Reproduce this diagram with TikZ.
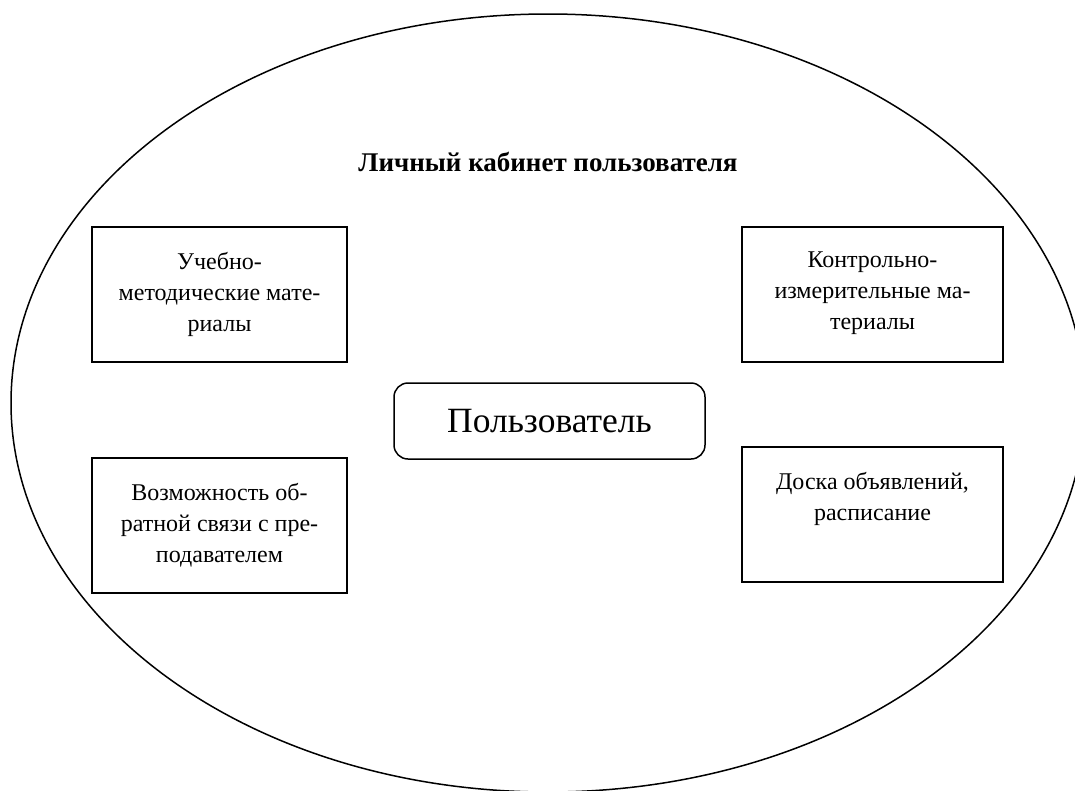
\documentclass[tikz,border=0pt]{standalone}
\usepackage{fontspec}
\setmainfont{Liberation Serif}
\usepackage{tikz}

\tikzset{
    infobox/.style={draw, line width=1.5pt, inner sep=0pt},
    userbox/.style={draw, line width=1.5pt, rounded corners=14pt, minimum width=311pt, minimum height=76pt, font=\fontsize{35.5}{40}\selectfont},
    cabinet/.style={font=\bfseries\fontsize{27}{32}\selectfont}
}
\newcommand{\boxlines}[2]{\parbox[c][135pt][t]{#1}{\centering\fontsize{24}{31}\selectfont\vspace*{25pt}#2}}

\begin{document}
\begin{tikzpicture}[x=1pt,y=-1pt]
        \clip (0,0) rectangle (1075,790);
        \draw[line width=1.5pt] (548,403) ellipse [x radius=537, y radius=389];
        \node[cabinet] (title) at (548,162) {Личный кабинет пользователя};
        \node[userbox] (user) at (549.5,421) {Пользователь};
        \node[infobox] (study) at (219.5,294.5) {\boxlines{255pt}{Учебно-\\методические мате-\\риалы}};
        \node[infobox] (feedback) at (219.5,525.5) {\boxlines{255pt}{Возможность об-\\ратной связи с пре-\\подавателем}};
        \node[infobox] (tests) at (872.5,294.5) {\boxlines{261pt}{Контрольно-\\измерительные ма-\\териалы}};
        \node[infobox] (board) at (872.5,514.5) {\boxlines{261pt}{Доска объявлений,\\расписание}};
    \end{tikzpicture}
\end{document}
